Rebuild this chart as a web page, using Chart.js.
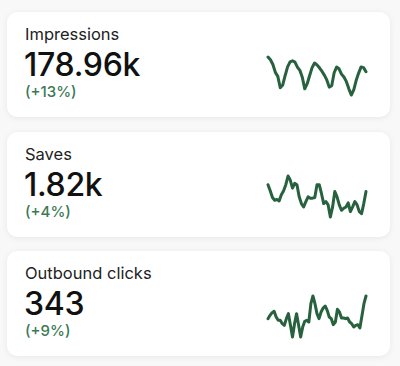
<!DOCTYPE html>
<html>
<head>
<meta charset="utf-8">
<script src="https://cdn.jsdelivr.net/npm/chart.js@4/dist/chart.umd.min.js"></script>
<style>
  html, body { margin: 0; padding: 0; }
  body { width: 400px; height: 366px; background: #f8f8f8; position: relative; overflow: hidden;
         font-family: Inter, "Noto Sans", sans-serif; }
  .card { position: absolute; left: 7px; width: 383px; height: 105px; background: #fff;
          border-radius: 10px; box-shadow: 0 1px 6px rgba(0,0,0,0.07); }
  .label { position: absolute; left: 18px; top: 14px; font-size: 16.5px; line-height: 17px; color: #222; font-weight: 400; }
  .value { position: absolute; left: 17px; top: 36.5px; font-size: 32px; line-height: 32px; color: #111; font-weight: 500; letter-spacing: -0.3px; }
  .change { position: absolute; left: 18px; top: 72px; font-size: 15px; line-height: 15px; color: #3b7a55; font-weight: 500; }
  .spark { position: absolute; }
</style>
</head>
<body>
<script>
// ---- data ----
const titles = ["Impressions", "Saves", "Outbound clicks"];
const totals = ["178.96k", "1.82k", "343"];
const changes = ["(+13%)", "(+4%)", "(+9%)"];

const impressions = [5300, 5140, 4860, 4400, 4170, 3500, 3660, 4220, 4720, 5020, 5080, 5000, 4710, 4520, 4120, 3440, 3740, 4220, 4680, 4950, 4840, 4670, 4470, 4240, 3960, 3540, 3620, 4380, 4710, 4610, 4300, 4130, 3860, 3440, 3080, 3380, 3940, 4360, 4720, 4680, 4440];
const saves = [88, 79, 69, 65, 66, 64, 73, 79, 88, 101, 95, 83, 90, 88, 70, 60, 55, 63, 70, 68, 68, 69, 88, 88, 75, 60, 63, 58, 40, 55, 78, 70, 58, 50, 53, 55, 61, 48, 55, 63, 58, 48, 45, 60, 78];
const outboundClicks = [8, 9, 9.8, 10.2, 8.5, 7.5, 7.5, 6.5, 6, 8, 9.5, 6, 2.5, 6.5, 9.5, 6, 2.5, 5.5, 7.2, 7.5, 7, 12.5, 14.8, 12.5, 9.5, 8, 10, 11.2, 11.8, 10.5, 8.5, 8, 6.2, 7, 10.8, 10, 8.2, 8.2, 8, 8.2, 7, 6.5, 5.5, 6, 6.2, 5.2, 8.8, 12.5, 14.8];

const series = [impressions, saves, outboundClicks];

// ---- layout ----
const cardTops = [12, 132, 251];
const sparkBoxes = [
  { left: 266, top: 55, width: 102, height: 42 },
  { left: 266, top: 174, width: 102, height: 45 },
  { left: 266, top: 294, width: 102, height: 45 }
];
const lineColor = "#27613d";

series.forEach((vals, i) => {
  const card = document.createElement("div");
  card.className = "card";
  card.style.top = cardTops[i] + "px";
  card.innerHTML = '<div class="label"></div><div class="value"></div><div class="change"></div>';
  card.querySelector(".label").textContent = titles[i];
  card.querySelector(".value").textContent = totals[i];
  card.querySelector(".change").textContent = changes[i];
  document.body.appendChild(card);

  const box = sparkBoxes[i];
  const wrap = document.createElement("div");
  wrap.className = "spark";
  wrap.style.left = box.left + "px";
  wrap.style.top = box.top + "px";
  wrap.style.width = box.width + "px";
  wrap.style.height = box.height + "px";
  const cv = document.createElement("canvas");
  cv.width = box.width; cv.height = box.height;
  wrap.appendChild(cv);
  document.body.appendChild(wrap);

  new Chart(cv, {
    type: "line",
    data: {
      labels: vals.map((_, k) => k + 1),
      datasets: [{
        data: vals,
        borderColor: lineColor,
        borderWidth: 3,
        pointRadius: 0,
        tension: 0,
        fill: false,
        borderJoinStyle: "round",
        borderCapStyle: "round",
        clip: false
      }]
    },
    options: {
      responsive: false,
      animation: false,
      layout: { padding: 2 },
      plugins: { legend: { display: false }, tooltip: { enabled: false } },
      scales: {
        x: { display: false, offset: false },
        y: { display: false, min: Math.min(...vals), max: Math.max(...vals) }
      }
    }
  });
});
</script>
</body>
</html>
